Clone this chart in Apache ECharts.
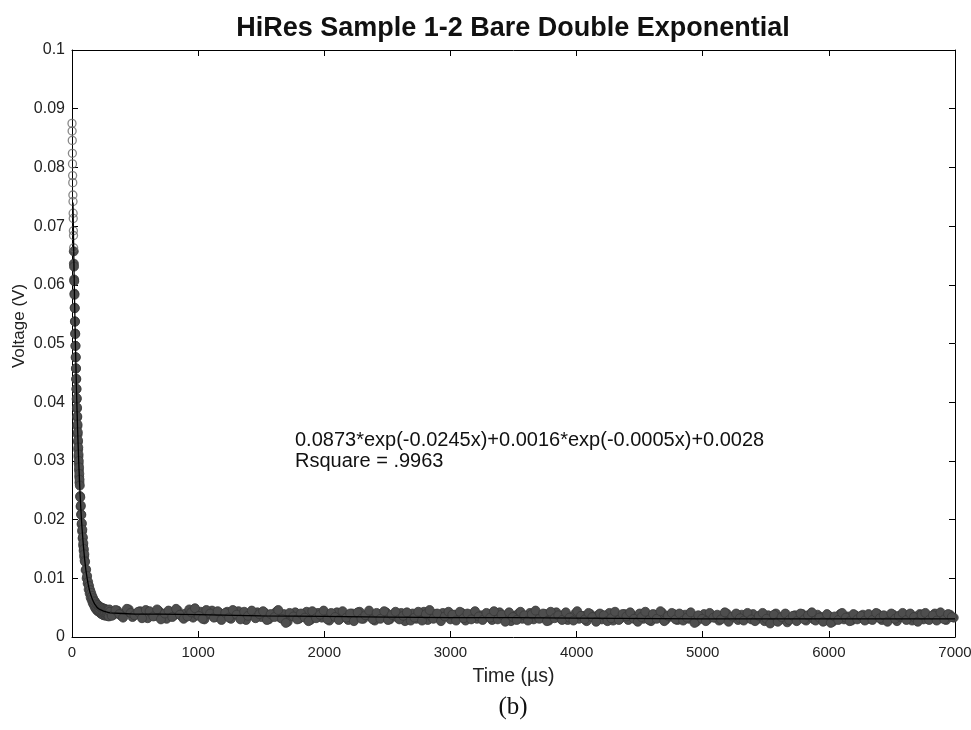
<!DOCTYPE html>
<html>
<head>
<meta charset="utf-8">
<script src="https://cdn.jsdelivr.net/npm/echarts@6/dist/echarts.min.js"></script>
<style>
  html, body { margin: 0; padding: 0; background: #fff; }
  #chart { width: 971px; height: 730px; }
</style>
</head>
<body>
<div id="chart"></div>
<script>
// ---------- data ----------
const titleText = 'HiRes Sample 1-2 Bare Double Exponential';
const fitText = '0.0873*exp(-0.0245x)+0.0016*exp(-0.0005x)+0.0028';
const rsqText = 'Rsquare = .9963';
const xName = 'Time (\u00b5s)';
const yName = 'Voltage (V)';
const panelLabel = '(b)';

const xTicks = [0, 1000, 2000, 3000, 4000, 5000, 6000, 7000];
const yTicks = [0, 0.01, 0.02, 0.03, 0.04, 0.05, 0.06, 0.07, 0.08, 0.09, 0.1];

// decay region, sampled every 1 µs (0..60)
const decayA = [
  0.0875,0.0862,0.0846,0.0824,0.0806,0.0786,0.0774,0.0753,0.0742,0.0722,
  0.0713,0.0692,0.0684,0.0663,0.0657,0.0636,0.0631,0.0609,0.0606,0.0585,
  0.0583,0.0561,0.0560,0.0538,0.0537,0.0517,0.0516,0.0496,0.0496,0.0476,
  0.0477,0.0457,0.0458,0.0439,0.0440,0.0422,0.0423,0.0405,0.0407,0.0389,
  0.0391,0.0374,0.0376,0.0359,0.0362,0.0345,0.0349,0.0332,0.0335,0.0319,
  0.0323,0.0307,0.0311,0.0295,0.0300,0.0284,0.0289,0.0273,0.0278,0.0263,0.0268
];
// every 2 µs (62..100)
const decayB = [
  0.0258,0.0240,0.0238,0.0222,0.0224,0.0209,0.0208,0.0192,0.0194,0.0180,
  0.0183,0.0168,0.0170,0.0156,0.0160,0.0147,0.0150,0.0137,0.0141,0.0130
];
// every 4 µs (104..296)
const decayC = [
  0.0128,0.0114,0.0115,0.0100,0.0104,0.0091,0.0094,0.0081,0.0087,0.0074,
  0.0080,0.0067,0.0075,0.0063,0.0070,0.0058,0.0066,0.0055,0.0062,0.0051,
  0.0060,0.0048,0.0057,0.0046,0.0055,0.0044,0.0054,0.0043,0.0052,0.0042,
  0.0051,0.0040,0.0050,0.0039,0.0049,0.0038,0.0049,0.0037,0.0048,0.0038,
  0.0047,0.0036,0.0047,0.0037,0.0046,0.0036,0.0046,0.0035,0.0047
];
// flat tail, every 30 µs from 300 µs
const bandA = [
  0.0043,0.0038,0.0045,0.0036,0.0041,0.0047,0.0034,0.0040,0.0044,0.0037,
  0.0032,0.0041,0.0036,0.0044,0.0039,0.0031,0.0042,0.0037,0.0045,0.0035,
  0.0040,0.0047,0.0033,0.0038,0.0043,0.0030,0.0039,0.0045,0.0034,0.0041,
  0.0036,0.0043,0.0031,0.0039,0.0044,0.0035,0.0029,0.0040,0.0037,0.0042,
  0.0034,0.0041,0.0030,0.0038,0.0043,0.0033,0.0039,0.0026,0.0036,0.0042,
  0.0031,0.0038,0.0043,0.0029,0.0036,0.0041,0.0033,0.0039,0.0028,0.0037,
  0.0042,0.0032,0.0037,0.0029,0.0040,0.0035,0.0043,0.0031,0.0038,0.0034,
  0.0028,0.0039,0.0034,0.0042,0.0030,0.0037,0.0033,0.0041,0.0027,0.0036,
  0.0040,0.0031,0.0037,0.0043,0.0029,0.0035,0.0039,0.0032,0.0041,0.0036,
  0.0030,0.0038,0.0034,0.0041,0.0028,0.0036,0.0040,0.0031,0.0037,0.0033,
  0.0039,0.0029,0.0035,0.0042,0.0032,0.0038,0.0027,0.0036,0.0040,0.0031,
  0.0035,0.0041,0.0030,0.0037,0.0033,0.0039,0.0028,0.0036,0.0042,0.0032,
  0.0038,0.0029,0.0034,0.0040,0.0031,0.0036,0.0027,0.0039,0.0033,0.0037,
  0.0030,0.0036,0.0041,0.0028,0.0035,0.0032,0.0039,0.0029,0.0037,0.0034,
  0.0040,0.0031,0.0036,0.0027,0.0038,0.0033,0.0041,0.0030,0.0035,0.0039,
  0.0029,0.0035,0.0038,0.0031,0.0036,0.0026,0.0034,0.0039,0.0030,0.0037,
  0.0033,0.0028,0.0037,0.0040,0.0031,0.0035,0.0029,0.0038,0.0032,0.0036,
  0.0039,0.0030,0.0034,0.0027,0.0037,0.0032,0.0040,0.0029,0.0035,0.0025,
  0.0031,0.0037,0.0033,0.0039,0.0028,0.0035,0.0030,0.0038,0.0034,0.0029,
  0.0036,0.0026,0.0033,0.0039,0.0030,0.0035,0.0028,0.0037,0.0032,0.0038,
  0.0030,0.0036,0.0033,0.0039,0.0029,0.0035,0.0031,0.0038,0.0027,0.0034,
  0.0037,0.0032,0.0028,0.0035,0.0039,0.0030,0.0036,0.0033,0.0040,0.0031,
  0.0035,0.0029,0.0038,0.0033
];
// flat tail, every 30 µs from 315 µs
const bandB = [
  0.0036,0.0046,0.0039,0.0033,0.0048,0.0041,0.0037,0.0043,0.0032,0.0046,
  0.0044,0.0035,0.0047,0.0030,0.0040,0.0045,0.0034,0.0048,0.0038,0.0031,
  0.0035,0.0042,0.0049,0.0036,0.0031,0.0046,0.0040,0.0033,0.0044,0.0029,
  0.0041,0.0033,0.0046,0.0038,0.0030,0.0043,0.0036,0.0045,0.0032,0.0039,
  0.0044,0.0029,0.0039,0.0034,0.0046,0.0031,0.0024,0.0041,0.0035,0.0030,
  0.0040,0.0033,0.0027,0.0044,0.0032,0.0038,0.0045,0.0030,0.0041,0.0034,
  0.0029,0.0044,0.0033,0.0040,0.0027,0.0042,0.0031,0.0037,0.0045,0.0030,
  0.0041,0.0031,0.0044,0.0029,0.0038,0.0043,0.0030,0.0036,0.0042,0.0028,
  0.0033,0.0043,0.0028,0.0039,0.0046,0.0031,0.0040,0.0027,0.0035,0.0043,
  0.0038,0.0028,0.0043,0.0032,0.0040,0.0030,0.0044,0.0035,0.0029,0.0041,
  0.0033,0.0044,0.0030,0.0038,0.0026,0.0042,0.0034,0.0029,0.0043,0.0037,
  0.0028,0.0039,0.0045,0.0031,0.0040,0.0027,0.0043,0.0032,0.0037,0.0029,
  0.0042,0.0033,0.0028,0.0044,0.0036,0.0030,0.0041,0.0034,0.0026,0.0040,
  0.0037,0.0027,0.0032,0.0043,0.0029,0.0039,0.0035,0.0042,0.0031,0.0026,
  0.0034,0.0043,0.0029,0.0039,0.0031,0.0044,0.0027,0.0036,0.0041,0.0030,
  0.0040,0.0028,0.0033,0.0042,0.0024,0.0037,0.0031,0.0027,0.0041,0.0033,
  0.0038,0.0030,0.0042,0.0026,0.0035,0.0040,0.0032,0.0028,0.0041,0.0030,
  0.0027,0.0036,0.0041,0.0031,0.0023,0.0038,0.0026,0.0034,0.0040,0.0029,
  0.0036,0.0027,0.0040,0.0030,0.0037,0.0042,0.0028,0.0033,0.0026,0.0039,
  0.0024,0.0035,0.0029,0.0041,0.0033,0.0027,0.0039,0.0030,0.0036,0.0028,
  0.0039,0.0029,0.0041,0.0032,0.0037,0.0026,0.0040,0.0031,0.0036,0.0041,
  0.0029,0.0040,0.0034,0.0026,0.0038,0.0041,0.0029,0.0037,0.0028,0.0042,
  0.0030,0.0039,0.0034
];
// sampling grid of each block: [first time (µs), step (µs)]
const blocks = [
  { start: 0,   step: 1,  values: decayA },
  { start: 62,  step: 2,  values: decayB },
  { start: 104, step: 4,  values: decayC },
  { start: 300, step: 30, values: bandA },
  { start: 315, step: 30, values: bandB }
];

// fitted curve
const fitTimes = [8,10,15,20,25,30,35,40,45,50,55,60,65,70,75,80,90,100,110,120,130,140,150,160,170,180,200,220,250,300,400,500,700,1000,1500,2000,2500,3000,3500,4000,5000,6000,7000];
const fitVolts = [0.0740,0.0710,0.0640,0.0578,0.0522,0.0472,0.0426,0.0386,0.0350,0.0318,0.0289,0.0263,0.0240,0.0219,0.0200,0.0184,0.0156,0.0133,0.0114,0.0100,0.0088,0.0078,0.0071,0.0065,0.0060,0.0056,0.0050,0.0047,0.0044,0.0041,0.0040,0.0039,0.0039,0.0038,0.0036,0.0035,0.0034,0.0033,0.0033,0.0032,0.0031,0.0031,0.0031];

// ---------- build ----------
const hollowPts = [], filledPts = [];
blocks.forEach(b => b.values.forEach((v, i) => {
  const t = b.start + i * b.step;
  (t < 14 ? hollowPts : filledPts).push([t, v]);
}));
const fitPts = fitTimes.map((t, i) => [t, fitVolts[i]]);

const FONT = '"Liberation Sans", Arial, sans-serif';
const fmtY = v => v.toFixed(2).replace(/0+$/, '').replace(/\.$/, '');
const axisCommon = {
  axisLine: { show: true, onZero: false, lineStyle: { color: '#000', width: 1 } },
  axisTick: { show: true, inside: true, length: 6, lineStyle: { color: '#000', width: 1 } },
  splitLine: { show: false }
};
const labelFont = { color: '#222', fontSize: 15, fontFamily: FONT };

const chart = echarts.init(document.getElementById('chart'), null, { renderer: 'canvas' });
chart.setOption({
  animation: false,
  backgroundColor: '#fff',
  grid: { left: 72, right: 16, top: 50, bottom: 93, containLabel: false, outerBoundsMode: 'none' },
  xAxis: [
    Object.assign({
      type: 'value', position: 'bottom', min: xTicks[0], max: xTicks[xTicks.length - 1], interval: 1000,
      axisLabel: Object.assign({ margin: 8, formatter: v => String(v) }, labelFont),
      name: xName, nameLocation: 'middle', nameGap: 30,
      nameTextStyle: { color: '#222', fontSize: 19.5, fontFamily: FONT }
    }, axisCommon),
    Object.assign({
      type: 'value', position: 'top', min: xTicks[0], max: xTicks[xTicks.length - 1], interval: 1000,
      axisLabel: { show: false }
    }, axisCommon)
  ],
  yAxis: [
    Object.assign({
      type: 'value', position: 'left', min: yTicks[0], max: yTicks[yTicks.length - 1], interval: 0.01,
      axisLabel: Object.assign({ margin: 7, formatter: fmtY }, labelFont, { fontSize: 16 })
    }, axisCommon),
    Object.assign({
      type: 'value', position: 'right', min: yTicks[0], max: yTicks[yTicks.length - 1], interval: 0.01,
      axisLabel: { show: false }
    }, axisCommon)
  ],
  series: [
    {
      type: 'scatter', xAxisIndex: 0, yAxisIndex: 0, data: filledPts,
      symbol: 'circle', symbolSize: 9, z: 2,
      itemStyle: { color: '#4e4e4e', borderColor: '#3a3a3a', borderWidth: 0.8, opacity: 1 }
    },
    {
      type: 'scatter', xAxisIndex: 0, yAxisIndex: 0, data: hollowPts,
      symbol: 'circle', symbolSize: 8, z: 2,
      itemStyle: { color: 'rgba(0,0,0,0)', borderColor: '#6a6a6a', borderWidth: 1.3 }
    },
    {
      type: 'line', xAxisIndex: 0, yAxisIndex: 0, data: fitPts,
      showSymbol: false, symbol: 'none', smooth: false, z: 3,
      lineStyle: { color: '#000', width: 1.3 }
    }
  ],
  graphic: [
    { type: 'text', x: 513, y: 15, z: 10,
      style: { text: titleText, font: 'bold 27px ' + FONT, fill: '#111', textAlign: 'center', textVerticalAlign: 'top' } },
    { type: 'text', x: 19, y: 326, rotation: Math.PI / 2, z: 10,
      style: { text: yName, font: '17px ' + FONT, fill: '#222', textAlign: 'center', textVerticalAlign: 'middle' } },
    { type: 'text', x: 295, y: 430, z: 10,
      style: { text: fitText, font: '20px ' + FONT, fill: '#111', textAlign: 'left', textVerticalAlign: 'top' } },
    { type: 'text', x: 295, y: 451, z: 10,
      style: { text: rsqText, font: '20px ' + FONT, fill: '#111', textAlign: 'left', textVerticalAlign: 'top' } },
    { type: 'text', x: 513, y: 695, z: 10,
      style: { text: panelLabel, font: '25px "Liberation Serif", "Times New Roman", serif', fill: '#111', textAlign: 'center', textVerticalAlign: 'top' } }
  ]
});
</script>
</body>
</html>
